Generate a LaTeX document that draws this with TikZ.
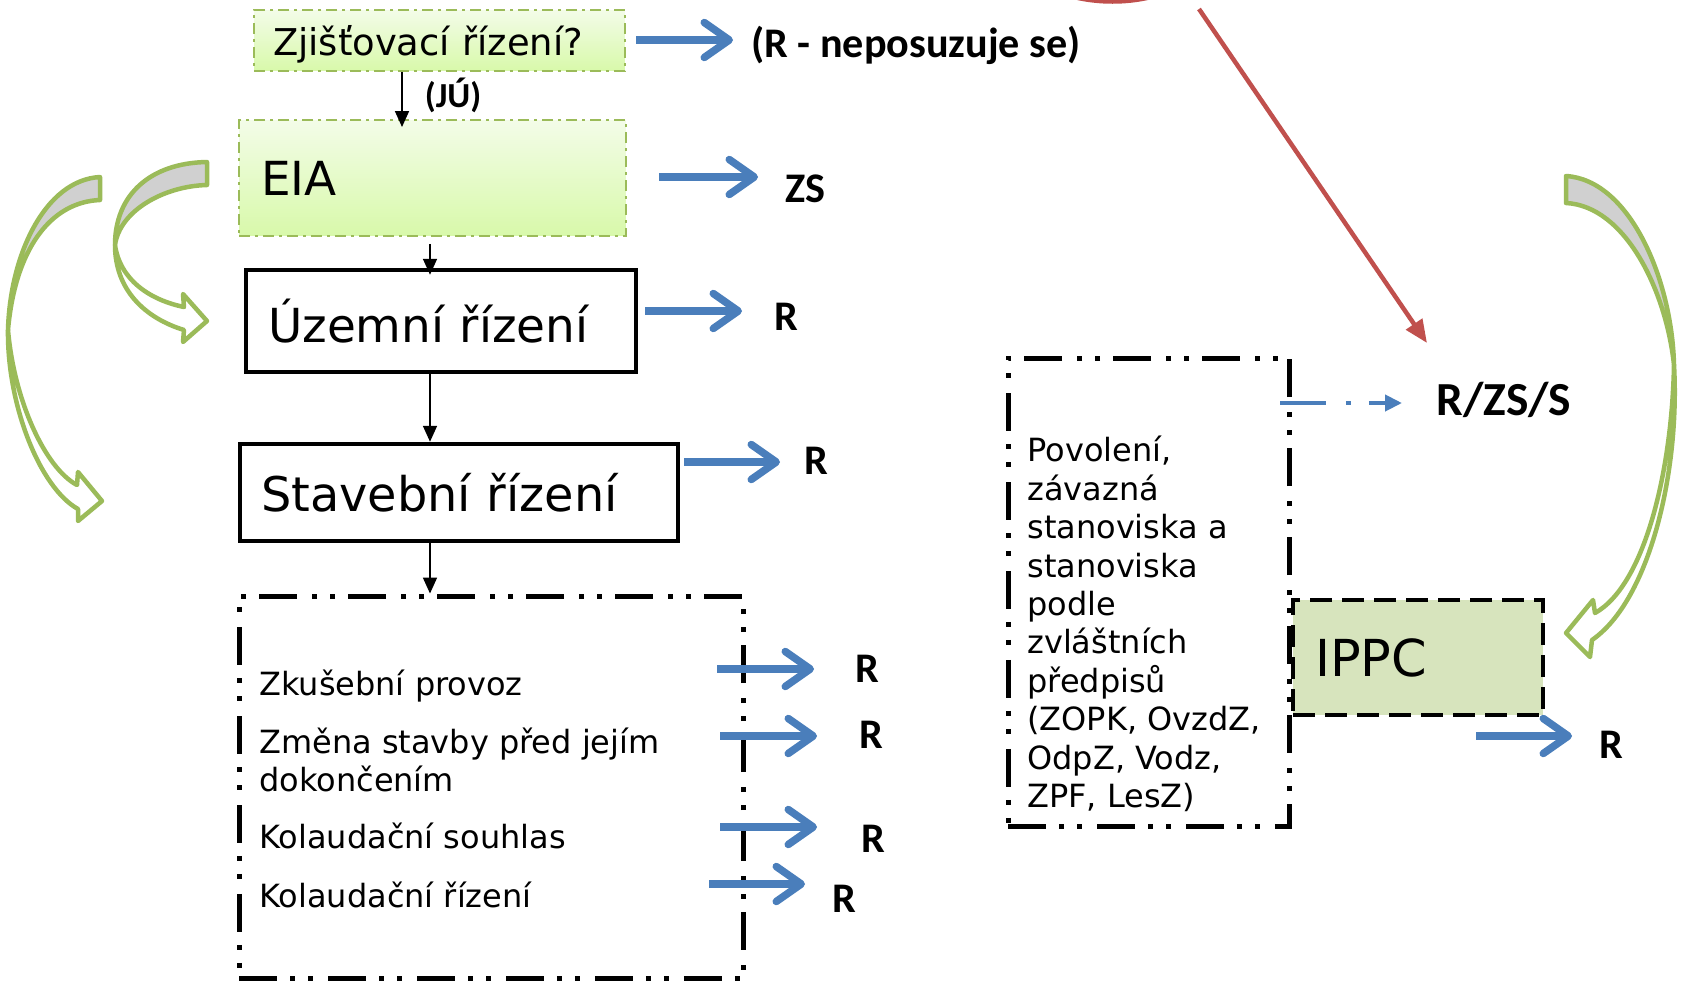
\documentclass[tikz,border=0pt]{standalone}
\usepackage{fontspec}
\setmainfont{DejaVu Sans}
\newfontfamily\lblfont{Carlito}
\usetikzlibrary{arrows.meta}

\definecolor{arrowblue}{RGB}{74,126,187}
\definecolor{linegreen}{RGB}{155,187,89}
\definecolor{arrowred}{RGB}{192,80,77}
\definecolor{ippcfill}{RGB}{215,228,189}
\definecolor{bendgray}{RGB}{208,208,208}
\definecolor{eiatop}{RGB}{243,252,232}
\definecolor{eiabottom}{RGB}{216,249,170}

\tikzstyle{greenbox} = [rectangle, draw=linegreen, line width=0.04cm, dash pattern=on 0.22cm off 0.1cm on 0.06cm off 0.1cm, top color=eiatop, bottom color=eiabottom, align=left]
\tikzstyle{block} = [rectangle, draw, line width=0.09cm, align=left]
\tikzstyle{dotbox} = [rectangle, draw, line width=0.1cm, dash pattern=on 0.76cm off 0.26cm on 0.1cm off 0.26cm on 0.1cm off 0.3cm]
\tikzstyle{ippcbox} = [rectangle, draw, fill=ippcfill, line width=0.09cm, dash pattern=on 0.44cm off 0.2cm, align=left]
\tikzstyle{txt} = [inner sep=0pt, anchor=base west, font=\fontsize{18.2}{21.85}\selectfont]
\tikzstyle{lbl} = [inner sep=0pt, anchor=base west, font=\lblfont\bfseries\fontsize{24}{28}\selectfont]
\tikzstyle{bluearrow} = [draw=arrowblue, line width=0.15cm, -{Straight Barb[length=0.5cm,width=0.7cm,line cap=round,line join=round]}]
\tikzstyle{thinarrow} = [line width=0.035cm, -{Triangle[length=0.32cm,width=0.28cm]}]
\tikzstyle{bendarrow} = [draw=linegreen, line width=0.09cm, line join=round]

\begin{document}
\begin{tikzpicture}[x=0.02cm, y=-0.02cm]
    \useasboundingbox (0,0) rectangle (1681,981);
    % Boxes of the procedure
    \node (zr) at (439.5,40.5) [greenbox, text width=6.66cm, inner xsep=0.38cm, minimum height=1.22cm, text depth=0pt, font=\fontsize{21}{25}\selectfont] {Zjišťovací řízení?};
    \node (eia) at (432.5,178) [greenbox, text width=6.86cm, inner xsep=0.44cm, minimum height=2.32cm, font=\fontsize{26.7}{31}\selectfont] {EIA};
    \node (ur) at (441,321) [block, text width=6.92cm, inner xsep=0.44cm, minimum height=2.04cm, font=\fontsize{26.7}{31}\selectfont] {Územní řízení};
    \node (sr) at (459,492.5) [block, text width=7.92cm, inner xsep=0.42cm, minimum height=1.94cm, font=\fontsize{27.2}{31}\selectfont] {Stavební řízení};
    \node (dalsi) at (491.5,787.5) [dotbox, minimum width=10.1cm, minimum height=7.66cm] {};
    \node (pov) at (1149,592.5) [dotbox, minimum width=5.64cm, minimum height=9.38cm] {};
    \node (ippc) at (1418,657.5) [ippcbox, text width=4.12cm, inner xsep=0.44cm, minimum height=2.3cm, font=\fontsize{29}{34}\selectfont] {IPPC};

    % Texts in the boxes
    \node (t1) at (259,695) [txt] {Zkušební provoz};
    \node (t2) at (259,753) [txt] {Změna stavby před jejím};
    \node (t3) at (259,791) [txt] {dokončením};
    \node (t4) at (259,848) [txt] {Kolaudační souhlas};
    \node (t5) at (259,907) [txt] {Kolaudační řízení};
    \node (povtext) at (1027,436) [txt, anchor=north west, align=left] {Povolení,\\závazná\\stanoviska a\\stanoviska\\podle\\zvláštních\\předpisů\\(ZOPK, OvzdZ,\\OdpZ, Vodz,\\ZPF, LesZ)};

    % Results
    \node (l0) at (751,57) [lbl] {(R - neposuzuje se)};
    \node (l1) at (785,202) [lbl] {ZS};
    \node (l2) at (774,330) [lbl] {R};
    \node (l3) at (804,474) [lbl] {R};
    \node (l4) at (855,682) [lbl] {R};
    \node (l5) at (859,748) [lbl] {R};
    \node (l6) at (861,852) [lbl] {R};
    \node (l7) at (832,912) [lbl] {R};
    \node (l8) at (1599,758) [lbl] {R};
    \node (rzs) at (1436,415) [lbl, font=\lblfont\bfseries\fontsize{27}{32}\selectfont] {R/ZS/S};

    % Black connectors
    \coordinate (sp1) at (402,0);
    \coordinate (sp2) at (430,0);
    \draw[thinarrow, shorten >=-0.16cm] (zr.south -| sp1) -- node[lbl, anchor=west, xshift=0.44cm, font=\lblfont\bfseries\fontsize{20}{24}\selectfont] (ju) {(JÚ)} (eia.north -| sp1);
    \draw[thinarrow, shorten <=0.14cm, shorten >=-0.14cm] (eia.south -| sp2) -- (ur.north -| sp2);
    \draw[thinarrow] (ur.south -| sp2) -- (sr.north -| sp2);
    \draw[thinarrow] (sr.south -| sp2) -- (dalsi.north -| sp2);

    % Blue arrows to the results
    \coordinate (a0) at (636,40);
    \coordinate (a1) at (659,177);
    \coordinate (a2) at (645,311);
    \coordinate (a3) at (684,462);
    \coordinate (a4) at (717,669);
    \coordinate (a5) at (720,736);
    \coordinate (a6) at (720,827);
    \coordinate (a7) at (709,884);
    \coordinate (a8) at (1476,736);
    \draw[bluearrow, shorten >=0.36cm] (a0) -- (a0 -| l0.west);
    \draw[bluearrow, shorten >=0.54cm] (a1) -- (a1 -| l1.west);
    \draw[bluearrow, shorten >=0.64cm] (a2) -- (a2 -| l2.west);
    \draw[bluearrow, shorten >=0.48cm] (a3) -- (a3 -| l3.west);
    \draw[bluearrow, shorten >=0.82cm] (a4) -- (a4 -| l4.west);
    \draw[bluearrow, shorten >=0.84cm] (a5) -- (a5 -| l5.west);
    \draw[bluearrow, shorten >=0.88cm] (a6) -- (a6 -| l6.west);
    \draw[bluearrow, shorten >=0.54cm] (a7) -- (a7 -| l7.west);
    \draw[bluearrow, shorten >=0.54cm] (a8) -- (a8 -| l8.west);

    % Dash-dotted arrow from the permits
    \coordinate (d0) at (1280,403);
    \draw[arrowblue, line width=0.08cm, dash pattern=on 0.92cm off 0.4cm on 0.1cm off 0.36cm, -{Triangle[length=0.34cm,width=0.32cm]}, shorten >=0.68cm] (d0) -- (d0 -| rzs.west);

    % Red arrow coming from above
    \fill[arrowred] (1077,0) .. controls (1100,5) and (1125,5) .. (1148,0) -- cycle;
    \coordinate (redstart) at (1199,9);
    \coordinate (redtip) at (1427,343);
    \draw[arrowred, line width=0.09cm, -{Triangle[length=0.46cm,width=0.38cm]}] (redstart) -- (redtip);

    % Green bent arrows, left outer
    \filldraw[bendarrow, fill=bendgray] (100,177) .. controls (45,180) and (10,255) .. (8,330) .. controls (15,250) and (50,202) .. (100,200) -- cycle;
    \filldraw[bendarrow, fill=white] (8,330) .. controls (7,405) and (40,488) .. (78,509) -- (78,521) -- (102,501) -- (78,472) -- (77,485) .. controls (45,468) and (14,400) .. (8,330) -- cycle;
    % left inner
    \filldraw[bendarrow, fill=bendgray] (207,162) .. controls (150,163) and (115,195) .. (115,245) .. controls (120,210) and (165,186) .. (207,185) -- cycle;
    \filldraw[bendarrow, fill=white] (115,245) .. controls (115,290) and (145,318) .. (184,330) -- (183,342) -- (207,321) -- (183,294) -- (184,307) .. controls (150,300) and (120,280) .. (115,245) -- cycle;
    % right
    \filldraw[bendarrow, fill=bendgray] (1566,176) .. controls (1630,180) and (1672,280) .. (1674,365) .. controls (1666,290) and (1625,206) .. (1566,203) -- cycle;
    \filldraw[bendarrow, fill=white] (1674,365) .. controls (1680,470) and (1650,600) .. (1592,640) -- (1590,657) -- (1566,633) -- (1593,600) -- (1595,613) .. controls (1645,585) and (1672,470) .. (1674,365) -- cycle;
\end{tikzpicture}
\end{document}
